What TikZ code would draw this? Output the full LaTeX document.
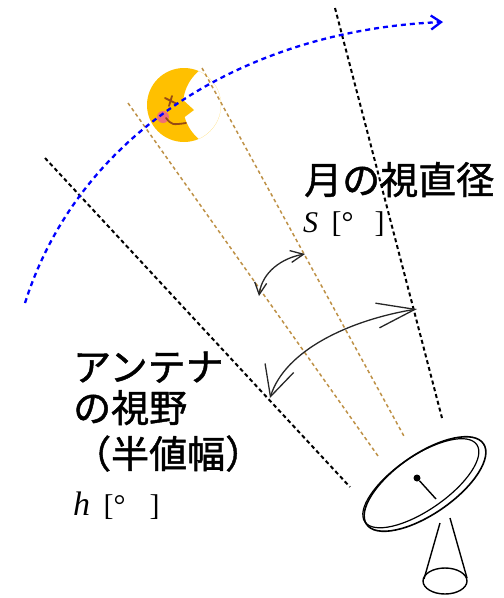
\documentclass[tikz,border=0pt]{standalone}
\usepackage{fontspec}
\setmainfont{Liberation Serif}
\newfontfamily\jafont[FakeBold=1.2]{Noto Sans CJK JP}
\usetikzlibrary{arrows.meta}

\definecolor{moonyellow}{RGB}{255,192,0}
\definecolor{beamtan}{RGB}{190,145,70}
\definecolor{cheekpink}{RGB}{240,110,120}
\definecolor{mouthbrown}{RGB}{150,75,20}

\begin{document}
\begin{tikzpicture}[
		x=1pt, y=-1pt,
		fov/.style={dash pattern=on 4pt off 3pt, line width=2pt},
		beam/.style={beamtan, dash pattern=on 3.5pt off 3pt, line width=1.5pt},
		orbit/.style={blue, dash pattern=on 5pt off 4pt, line width=2.3pt},
		span/.style={line width=1.3pt, black!85},
		jlabel/.style={inner sep=0pt, anchor=base west, font=\jafont\fontsize{38}{40}\selectfont},
		ulabel/.style={inner sep=0pt, anchor=base west, font=\fontsize{30}{32}\selectfont}
	]
  \useasboundingbox (0,0) rectangle (504,598);

  % edges of the antenna beam and of the moon disc
  \coordinate (fovL1) at (45,158);
  \coordinate (fovL2) at (350,487);
  \coordinate (fovR1) at (335,8);
  \coordinate (fovR2) at (442,418);
  \coordinate (moonL1) at (128,103);
  \coordinate (moonL2) at (378,456);
  \coordinate (moonR1) at (202,68);
  \coordinate (moonR2) at (405,438);

  \draw[fov] (fovL1) -- (fovL2);
  \draw[fov] (fovR1) -- (fovR2);
  \draw[beam] (moonL1) -- (moonL2);
  \draw[beam] (moonR1) -- (moonR2);

  % moon
  \begin{scope}
    \clip (184,105) circle (37);
    \fill[moonyellow, even odd rule] (184,105) circle (37) (227.6,105) circle (44.6);
  \end{scope}
  \fill[moonyellow] (182,99) -- (194,110) -- (182,119) -- cycle;
  \fill[cheekpink] (163,117) circle (6);
  \draw[mouthbrown, line width=1.8pt, line cap=round] (165,98) -- (177,104) (172,96) -- (169,106);
  \draw[mouthbrown, line width=1.8pt, line cap=round] (166,118) .. controls (172,125) .. (186,123);

  % moon path
  \coordinate (orbitA) at (25,303);
  \coordinate (orbitB) at (443,22);
  \draw[orbit, -{Straight Barb[length=10pt,width=14pt]}] (orbitA) .. controls (80,130) and (250,30) .. (orbitB);

  % angle arrows
  \coordinate (sA) at (259,296);
  \coordinate (sB) at (305,254);
  \coordinate (hA) at (270,398);
  \coordinate (hB) at (417,309);
  \draw[span, {Straight Barb[length=12pt,width=12pt]}-{Straight Barb[length=13pt,width=12pt]}]
    (sA) .. controls (262,272) and (282,258) .. (sB);
  \draw[span, {Straight Barb[length=30pt,width=30pt]}-{Straight Barb[length=38pt,width=25pt]}]
    (hA) .. controls (285,350) and (350,320) .. (hB);

  % dish antenna
  \draw[line width=1.4pt] (440,523) -- (424,579) (450,518) -- (467,578);
  \draw[line width=1.4pt] (445,581) ellipse [x radius=22, y radius=13];
  \begin{scope}[shift={(425,484)}, rotate=34.6]
    \fill[white] (0,0) ellipse [x radius=71, y radius=30];
    \draw[line width=1.6pt] (0,0) ellipse [x radius=71, y radius=30];
    \draw[line width=1.2pt] (-3,-3) ellipse [x radius=68, y radius=27];
  \end{scope}
  \coordinate (feedTip) at (436,499);
  \node (feed) [circle, fill, inner sep=0pt, minimum size=7pt] at (417,478) {};
  \draw[line width=1.4pt] (feed) -- (feedTip);

  % labels
  \node[jlabel] (sizeTitle) at (304,194) {月の視直径};
  \node[ulabel] (sizeUnit) at (303,232) {\textit{S}\hspace{0.45em}[°\hspace{0.7em}]};
  \node[jlabel] (beamTitle1) at (73,381) {アンテナ};
  \node[jlabel] (beamTitle2) at (73,422) {の視野};
  \node[jlabel] (beamTitle3) at (73,468) {（半値幅）};
  \node[ulabel] (beamUnit) at (73,515) {{\fontsize{34}{36}\selectfont\textit{h}}\hspace{0.45em}[°\hspace{0.8em}]};
\end{tikzpicture}
\end{document}
